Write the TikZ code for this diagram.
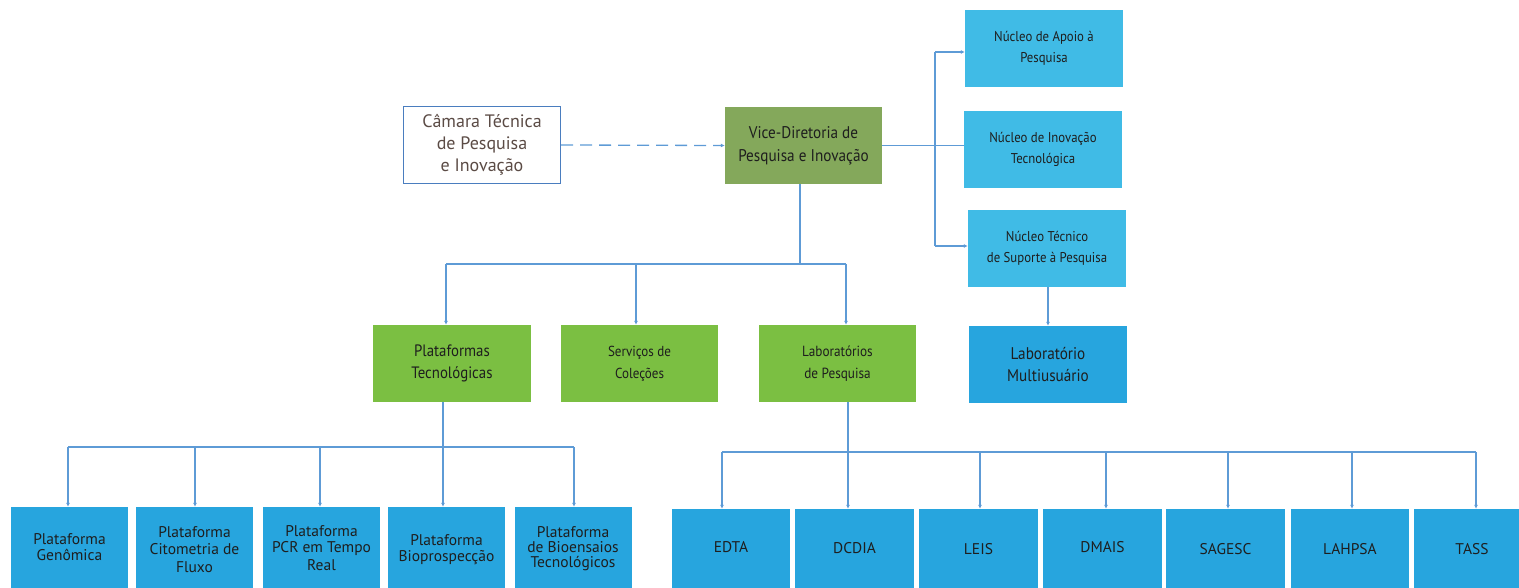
\documentclass[tikz,border=0pt]{standalone}
\usepackage{fontspec}
\setmainfont{PT Sans}
\newfontfamily\condf{PT Sans}[FakeStretch=0.9]
\usetikzlibrary{arrows.meta}
\definecolor{linec}{HTML}{5E9BD6}
\definecolor{vicec}{HTML}{84A85B}
\definecolor{greenc}{HTML}{7BBF42}
\definecolor{lightb}{HTML}{40BBE6}
\definecolor{darkb}{HTML}{27A5DE}
\definecolor{txt}{HTML}{1E1E1E}
\definecolor{camtxt}{HTML}{5B4B45}
\definecolor{camborder}{HTML}{4A7DBF}
\tikzset{
  box/.style={rectangle, inner sep=2pt, align=center, text=txt, draw=none},
  conn/.style={draw=linec, line width=1.3pt},
  arr/.style={conn, -{Latex[length=4pt,width=4pt]}},
  lvl2/.style={box, fill=greenc, minimum width=157pt, minimum height=77pt, font=\condf\fontsize{16.5}{22}\selectfont},
  nuc/.style={box, fill=lightb, minimum width=158pt, minimum height=77pt, font=\condf\fontsize{14.2}{21}\selectfont},
  plat/.style={box, fill=darkb, minimum width=117pt, minimum height=85pt, font=\fontsize{15.5}{17.5}\selectfont},
  lab/.style={box, fill=darkb, minimum width=118pt, minimum height=83pt, font=\fontsize{15.5}{18}\selectfont},
}
\begin{document}
\begin{tikzpicture}[x=1pt,y=-1pt]
\useasboundingbox (0,0) rectangle (1519,588);
\clip (0,0) rectangle (1519,588);

% top level
\node[box, fill=white, draw=camborder, line width=1.3pt, text=camtxt, minimum width=157pt, minimum height=77pt, font=\fontsize{18}{22}\selectfont] (cam) at (482,145) {Câmara Técnica\\de Pesquisa\\e Inovação};
\node[box, fill=vicec, minimum width=157pt, minimum height=77pt, font=\condf\fontsize{16.9}{23}\selectfont] (vice) at (803.5,145.5) {Vice-Diretoria de\\Pesquisa e Inovação};

% nucleos
\node[nuc] (apoio) at (1044,48.5) {Núcleo de Apoio à\\Pesquisa};
\node[nuc] (inov) at (1043,149.5) {Núcleo de Inovação\\Tecnológica};
\node[nuc] (tec) at (1047,248.5) {Núcleo Técnico\\de Suporte à Pesquisa};
\node[nuc, fill=darkb, font=\condf\fontsize{16.9}{22}\selectfont] (multi) at (1048,364.5) {Laboratório\\Multiusuário};

% level 2
\node[lvl2, minimum width=158pt] (plats) at (452,363.5) {Plataformas\\Tecnológicas};
\node[lvl2, font=\condf\fontsize{14.5}{22}\selectfont] (serv) at (639.5,363.5) {Serviços de\\Coleções};
\node[lvl2, font=\condf\fontsize{14.7}{22}\selectfont] (labs) at (837.5,363.5) {Laboratórios\\de Pesquisa};

% plataformas row
\node[plat] (p1) at (69.5,549.5) {\raisebox{5pt}{\shortstack{Plataforma\\[2pt]Genômica}}};
\node[plat] (p2) at (194.5,549.5) {Plataforma\\Citometria de\\Fluxo};
\node[plat] (p3) at (321.5,549.5) {\raisebox{3pt}{\shortstack{Plataforma\\[1pt]PCR em Tempo\\[1pt]Real}}};
\node[plat] (p4) at (446.5,549.5) {\raisebox{3pt}{\shortstack{Plataforma\\[2pt]Bioprospecção}}};
\node[plat] (p5) at (573,549.5) {\raisebox{5pt}{\shortstack{Plataforma\\[1pt]de Bioensaios\\[1pt]Tecnológicos}}};

% labs row
\node[lab] (l1) at (731,550.5) {\raisebox{7pt}{EDTA}};
\node[lab, minimum width=119pt] (l2) at (854.5,550.5) {\raisebox{6pt}{DCDIA}};
\node[lab, minimum width=119pt] (l3) at (978.5,550.5) {\raisebox{4pt}{LEIS}};
\node[lab, minimum width=119pt] (l4) at (1102.5,550.5) {\raisebox{7pt}{DMAIS}};
\node[lab, minimum width=119pt] (l5) at (1225.5,550.5) {\raisebox{4pt}{SAGESC}};
\node[lab] (l6) at (1350,550.5) {\raisebox{4pt}{LAHPSA}};
\node[lab, minimum width=116pt] (l7) at (1472,550.5) {\raisebox{4pt}{TASS}};

% dashed link
\draw[arr, dash pattern=on 12pt off 7pt] (cam.east) -- (vice.west);

% right branch
\coordinate (rtop) at (935,52);
\coordinate (rbot) at (935,246);
\draw[conn] (vice.east) -- (inov.west |- vice.east);
\draw[conn] (rtop) -- (rbot);
\draw[arr] (rtop) -- (apoio.west |- rtop);
\draw[arr] (rbot) -- (tec.west |- rbot);
\coordinate (mx) at (1048,300);
\draw[arr] (tec.south -| mx) -- (multi.north -| mx);

% down to level 2
\coordinate (dj) at (800,264);
\coordinate (dl) at (446,264);
\coordinate (dm) at (636,264);
\coordinate (dr) at (846,264);
\draw[conn] (vice.south -| dj) -- (dj);
\draw[conn] (dl) -- (dr);
\draw[arr] (dl) -- (dl |- plats.north);
\draw[arr] (dm) -- (dm |- serv.north);
\draw[arr] (dr) -- (dr |- labs.north);

% plataformas tree
\coordinate (pj) at (443,447);
\coordinate (pa) at (68,447);
\coordinate (pb) at (195,447);
\coordinate (pc) at (320,447);
\coordinate (pd) at (443,447);
\coordinate (pe) at (574,447);
\draw[conn] (plats.south -| pj) -- (pj);
\draw[conn] (pa) -- (pe);
\draw[arr] (pa) -- (pa |- p1.north);
\draw[arr] (pb) -- (pb |- p2.north);
\draw[arr] (pc) -- (pc |- p3.north);
\draw[arr] (pd) -- (pd |- p4.north);
\draw[arr] (pe) -- (pe |- p5.north);

% labs tree
\coordinate (lj) at (848,452);
\coordinate (la) at (722,452);
\coordinate (lb) at (848,452);
\coordinate (lc) at (980,452);
\coordinate (ld) at (1106,452);
\coordinate (le) at (1228,452);
\coordinate (lf) at (1352,452);
\coordinate (lg) at (1476,452);
\draw[conn] (labs.south -| lj) -- (lj);
\draw[conn] (la) -- (lg);
\draw[arr] (la) -- (la |- l1.north);
\draw[arr] (lb) -- (lb |- l2.north);
\draw[arr] (lc) -- (lc |- l3.north);
\draw[arr] (ld) -- (ld |- l4.north);
\draw[arr] (le) -- (le |- l5.north);
\draw[arr] (lf) -- (lf |- l6.north);
\draw[arr] (lg) -- (lg |- l7.north);
\end{tikzpicture}
\end{document}
